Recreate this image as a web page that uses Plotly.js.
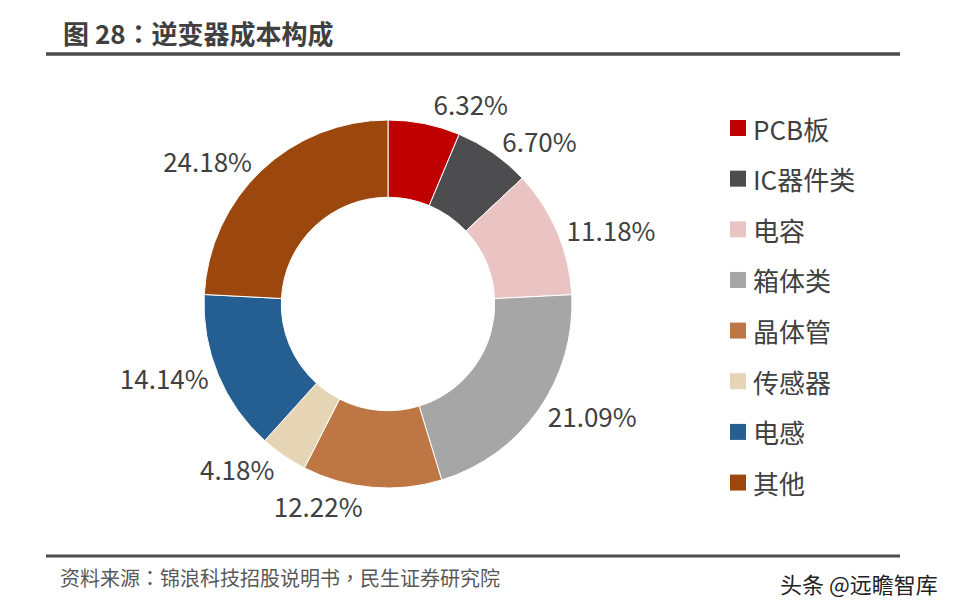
<!DOCTYPE html>
<html>
<head>
<meta charset="utf-8">
<script src="https://cdn.plot.ly/plotly-3.0.1.min.js"></script>
<style>
  html, body { margin: 0; padding: 0; background: #fff; }
  #chart { width: 959px; height: 612px; }
  /* the reference has no leader lines on its labels */
  path.textline { display: none; }
</style>
</head>
<body>
<div id="chart"></div>
<script>
// 逆变器成本构成 (%)
var categories = ['PCB板', 'IC器件类', '电容', '箱体类', '晶体管', '传感器', '电感', '其他'];
var shares = [6.32, 6.70, 11.18, 21.09, 12.22, 4.18, 14.14, 24.18];
var colors = ['#c00000', '#4d4d4f', '#eac3c3', '#a6a6a6', '#be7744', '#e6d5b5', '#255e91', '#9c470d'];

var W = 959, H = 612;
var font = '"Noto Sans CJK SC", "Noto Sans", sans-serif';
// centred full-width punctuation, as in the reference
function punct(s) {
  return '<span style="font-family:\'Noto Sans CJK TC\'">' + s + '</span>';
}

var pie = {
  type: 'pie',
  labels: categories,
  values: shares,
  sort: false,
  direction: 'clockwise',
  rotation: 0,
  hole: 0.58,
  marker: { colors: colors, line: { color: '#ffffff', width: 1 } },
  texttemplate: '%{value:.2f}%',
  textposition: 'outside',
  outsidetextfont: { family: font, size: 26, color: '#404040' },
  showlegend: false,
  hoverinfo: 'label+value',
  domain: { x: [(388 - 184) / W, (388 + 184) / W], y: [(H - 304 - 184) / H, (H - 304 + 184) / H] }
};

// legend drawn as boxes + text, one row per category
var shapes = [
  { type: 'line', xref: 'paper', yref: 'paper', x0: 46 / W, x1: 900 / W, y0: 1 - 54 / H, y1: 1 - 54 / H, line: { color: '#4d4d4d', width: 3.5 } },
  { type: 'line', xref: 'paper', yref: 'paper', x0: 46 / W, x1: 900 / W, y0: 1 - 556 / H, y1: 1 - 556 / H, line: { color: '#4d4d4d', width: 3 } }
];
var annotations = [
  { text: '<b>图 28' + punct('：') + '逆变器成本构成</b>', xref: 'paper', yref: 'paper', x: 61 / W, y: 1 - 32 / H, xanchor: 'left', yanchor: 'middle', showarrow: false, font: { family: font, size: 26, color: '#404040' } },
  { text: '资料来源' + punct('：') + '锦浪科技招股说明书' + punct('，') + '民生证券研究院', xref: 'paper', yref: 'paper', x: 58 / W, y: 1 - 577 / H, xanchor: 'left', yanchor: 'middle', showarrow: false, font: { family: font, size: 20, color: '#595959' } },
  { text: '头条 @远瞻智库', xref: 'paper', yref: 'paper', x: 940 / W, y: 1 - 583 / H, xanchor: 'right', yanchor: 'middle', showarrow: false, font: { family: font, size: 22, color: '#222222' } }
];
for (var i = 0; i < categories.length; i++) {
  var cy = 128 + i * 50.65;
  shapes.push({ type: 'rect', xref: 'paper', yref: 'paper', x0: 730 / W, x1: 746 / W, y0: 1 - (cy - 8) / H, y1: 1 - (cy + 8) / H, fillcolor: colors[i], line: { width: 0 } });
  annotations.push({ text: categories[i], xref: 'paper', yref: 'paper', x: 751 / W, y: 1 - cy / H, xanchor: 'left', yanchor: 'middle', showarrow: false, font: { family: font, size: 26, color: '#404040' } });
}

var layout = {
  width: W,
  height: H,
  margin: { l: 0, r: 0, t: 0, b: 0 },
  paper_bgcolor: '#ffffff',
  font: { family: font },
  shapes: shapes,
  annotations: annotations
};

Plotly.newPlot('chart', [pie], layout, { displayModeBar: false, staticPlot: true });
</script>
</body>
</html>
